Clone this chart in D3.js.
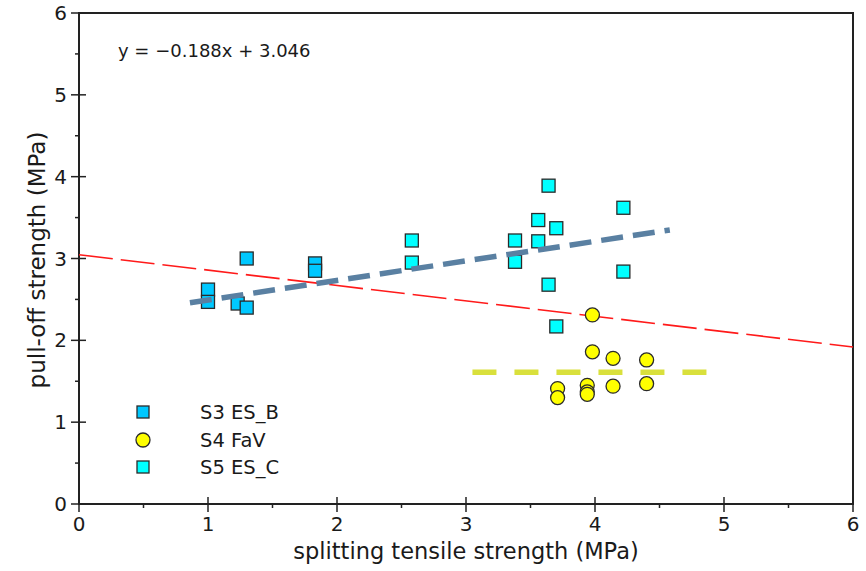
<!DOCTYPE html>
<html><head><meta charset="utf-8">
<script src="https://cdn.jsdelivr.net/npm/d3@7"></script>
<style>body{margin:0;background:#fff}svg{display:block}text{font-family:"DejaVu Sans",Verdana,sans-serif;fill:#1a1a1a}</style>
</head><body>
<script>
// Data
const s3x = [1.0, 1.0, 1.23, 1.3, 1.3, 1.83, 1.83];
const s3y = [2.62, 2.47, 2.45, 2.40, 3.00, 2.94, 2.85];
const s4x = [3.98, 3.98, 4.14, 4.40, 3.71, 3.71, 3.94, 3.94, 3.94, 4.14, 4.40];
const s4y = [2.31, 1.86, 1.78, 1.76, 1.41, 1.30, 1.45, 1.37, 1.34, 1.44, 1.47];
const s5x = [2.58, 2.58, 3.64, 4.22, 3.56, 3.70, 3.38, 3.56, 3.38, 4.22, 3.64, 3.70];
const s5y = [3.22, 2.95, 3.89, 3.62, 3.47, 3.37, 3.22, 3.21, 2.96, 2.84, 2.68, 2.17];
const seriesNames = ["S3 ES_B", "S4 FaV", "S5 ES_C"];
// trend lines: [slope, intercept, xStart, xEnd]
const fitAll = [-0.188, 3.046, 0, 6];
const fitS3S5 = [0.239, 2.254, 0.86, 4.58];
const fitS4 = [0, 1.61, 3.05, 4.87];
const xTicks = [0, 1, 2, 3, 4, 5, 6];
const yTicks = [0, 1, 2, 3, 4, 5, 6];
const equation = "y = \u22120.188x + 3.046";

const W = 866, H = 571;
const svg = d3.select("body").append("svg").attr("width", W).attr("height", H);
const x = d3.scaleLinear().domain([0, 6]).range([79, 853]);
const y = d3.scaleLinear().domain([0, 6]).range([504, 13]);

// frame
svg.append("rect").attr("x", 79).attr("y", 13).attr("width", 774).attr("height", 491)
  .attr("fill", "none").attr("stroke", "#222").attr("stroke-width", 2);

// axes
const minor = d3.range(0.5, 6, 1);
const gx = svg.append("g");
gx.selectAll(".maj").data(xTicks).join("line").attr("x1", d => x(d)).attr("x2", d => x(d))
  .attr("y1", 497).attr("y2", 512).attr("stroke", "#222").attr("stroke-width", 1.5);
gx.selectAll(".min").data(minor).join("line").attr("class","min").attr("x1", d => x(d)).attr("x2", d => x(d))
  .attr("y1", 504).attr("y2", 508).attr("stroke", "#222").attr("stroke-width", 1.5);
gx.selectAll("text").data(xTicks).join("text").attr("x", d => x(d)).attr("y", 531)
  .attr("text-anchor", "middle").attr("font-size", 20).text(d => d);
const gy = svg.append("g");
gy.selectAll(".maj").data(yTicks).join("line").attr("y1", d => y(d)).attr("y2", d => y(d))
  .attr("x1", 71).attr("x2", 86).attr("stroke", "#222").attr("stroke-width", 1.5);
gy.selectAll(".min").data(minor).join("line").attr("class","min").attr("y1", d => y(d)).attr("y2", d => y(d))
  .attr("x1", 75).attr("x2", 79).attr("stroke", "#222").attr("stroke-width", 1.5);
gy.selectAll("text").data(yTicks).join("text").attr("x", 67).attr("y", d => y(d) + 7)
  .attr("text-anchor", "end").attr("font-size", 20).text(d => d);

svg.append("text").attr("x", 466).attr("y", 559).attr("text-anchor", "middle")
  .attr("font-size", 22.5).text("splitting tensile strength (MPa)");
svg.append("text").attr("transform", "translate(45,260) rotate(-90)").attr("text-anchor", "middle")
  .attr("font-size", 23).text("pull-off strength (MPa)");

// fit lines
function fitLine(f, color, width, dash) {
  svg.append("line").attr("x1", x(f[2])).attr("y1", y(f[0] * f[2] + f[1]))
    .attr("x2", x(f[3])).attr("y2", y(f[0] * f[3] + f[1]))
    .attr("stroke", color).attr("stroke-width", width).attr("stroke-dasharray", dash);
}
fitLine(fitAll, "#ff1a1a", 1.6, "34,8");

// points
function squares(xs, ys, fill) {
  svg.append("g").selectAll("rect").data(xs.map((v, i) => [v, ys[i]])).join("rect")
    .attr("x", d => x(d[0]) - 6.5).attr("y", d => y(d[1]) - 6.5).attr("width", 13).attr("height", 13)
    .attr("fill", fill).attr("stroke", "#2a2a2a").attr("stroke-width", 1.3);
}
squares(s3x, s3y, "#00c8ff");
squares(s5x, s5y, "#00ffff");
svg.append("g").selectAll("circle").data(s4x.map((v, i) => [v, s4y[i]])).join("circle")
  .attr("cx", d => x(d[0])).attr("cy", d => y(d[1])).attr("r", 7)
  .attr("fill", "#ffff00").attr("stroke", "#2a2a2a").attr("stroke-width", 1.3);

fitLine(fitS3S5, "#5a80a2", 5.5, "22,10");
fitLine(fitS4, "#d9e03c", 5.5, "24,18");

// equation
svg.append("text").attr("x", 118).attr("y", 57).attr("font-size", 18).text(equation);

// legend
const lg = svg.append("g");
const ly = [412, 440, 467];
lg.append("rect").attr("x", 137).attr("y", ly[0] - 6).attr("width", 12).attr("height", 12)
  .attr("fill", "#00c8ff").attr("stroke", "#2a2a2a").attr("stroke-width", 1.3);
lg.append("circle").attr("cx", 143).attr("cy", ly[1]).attr("r", 7)
  .attr("fill", "#ffff00").attr("stroke", "#2a2a2a").attr("stroke-width", 1.3);
lg.append("rect").attr("x", 137).attr("y", ly[2] - 6).attr("width", 12).attr("height", 12)
  .attr("fill", "#00ffff").attr("stroke", "#2a2a2a").attr("stroke-width", 1.3);
lg.selectAll("text").data(seriesNames).join("text").attr("x", 200).attr("y", (d, i) => ly[i] + 7)
  .attr("font-size", 19.5).text(d => d);
</script>
</body></html>
